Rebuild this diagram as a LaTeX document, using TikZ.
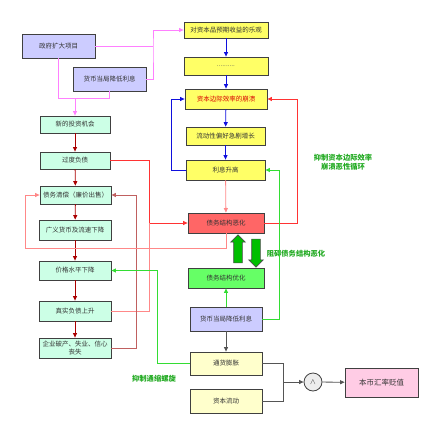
\documentclass[tikz,border=0pt]{standalone}
\usepackage{fontspec}
\newfontfamily\cjk{Noto Sans CJK SC}
\usetikzlibrary{arrows.meta,shapes.arrows}

\definecolor{boxpurple}{HTML}{CCCCFF}
\definecolor{boxyellow}{HTML}{FFFF66}
\definecolor{boxmint}{HTML}{CCFFE6}
\definecolor{boxred}{HTML}{FF6666}
\definecolor{boxgreen}{HTML}{66FF66}
\definecolor{boxcream}{HTML}{FFFFCC}
\definecolor{boxpink}{HTML}{FFCCE5}
\definecolor{linepink}{HTML}{FF80FF}
\definecolor{lineblue}{HTML}{1010DD}
\definecolor{linedark}{HTML}{AA0000}
\definecolor{linered}{HTML}{FF3333}
\definecolor{linelight}{HTML}{FF8888}
\definecolor{linebrown}{HTML}{C06060}
\definecolor{linegreen}{HTML}{33DD33}
\definecolor{textgreen}{HTML}{22AA22}
\definecolor{linegray}{HTML}{555555}

\tikzset{
  box/.style={draw=black!75, line width=0.8pt, inner sep=1pt, align=center,
    font=\cjk\fontsize{6.5}{7.5}\selectfont, text=black!80},
  tip/.style={-{Triangle[length=4.5pt,width=4pt]}},
  conn/.style={line width=0.8pt},
  note/.style={font=\cjk\bfseries\fontsize{7.3}{9}\selectfont, text=textgreen, align=center},
  bigarrow/.style={single arrow, draw=black!70, fill=green!75!black, line width=0.6pt,
    minimum height=28pt, minimum width=14pt, single arrow head extend=3pt, inner sep=4pt}
}

\begin{document}
\begin{tikzpicture}[x=1pt,y=-1pt]
\useasboundingbox (0,0) rectangle (433,428);

% top left
\node[box, fill=boxpurple, minimum width=73, minimum height=24] (gov) at (58.5,46) {政府扩大项目};
\node[box, fill=boxpurple, minimum width=73, minimum height=24] (rateA) at (109.5,79) {货币当局降低利息};

% yellow column
\node[box, fill=boxyellow, minimum width=84, minimum height=16] (optim) at (226,30) {对资本品预期收益的乐观};
\node[box, fill=boxyellow, minimum width=84, minimum height=18, text=black!65] (dots) at (226,66) {..........};
\node[box, fill=boxyellow, minimum width=82, minimum height=20, text=red!85!black] (mec) at (226,99) {资本边际效率的崩溃};
\node[box, fill=boxyellow, minimum width=79, minimum height=18] (liq) at (225.5,136) {流动性偏好急剧增长};
\node[box, fill=boxyellow, minimum width=79, minimum height=20] (rise) at (225.5,170) {利息升高};

% middle column
\node[box, fill=boxred, minimum width=76, minimum height=20] (debtbad) at (226,223) {债务结构恶化};
\node[box, fill=boxgreen, minimum width=76, minimum height=20] (debtgood) at (226,278) {债务结构优化};
\node[box, fill=boxpurple, minimum width=72, minimum height=24] (rateB) at (226,319) {货币当局降低利息};
\node[box, fill=boxcream, minimum width=72, minimum height=23] (infl) at (226,363.5) {通货膨胀};
\node[box, fill=boxcream, minimum width=72, minimum height=24] (capflow) at (226,401) {资本流动};
\node[box, circle, fill=black!7, minimum size=18, font=\cjk\fontsize{8}{9}\selectfont] (and) at (313,382) {$\wedge$};
\node[box, fill=boxpink, minimum width=73, minimum height=29, font=\cjk\fontsize{7.5}{9}\selectfont] (depr) at (381.5,382.5) {本币汇率贬值};

% left column
\node[box, fill=boxmint, minimum width=70, minimum height=17] (inv) at (75,124.5) {新的投资机会};
\node[box, fill=boxmint, minimum width=70, minimum height=17] (overdebt) at (75,160.5) {过度负债};
\node[box, fill=boxmint, minimum width=71, minimum height=18] (liquid) at (75.5,195) {债务清偿（廉价出售）};
\node[box, fill=boxmint, minimum width=72, minimum height=20] (money) at (75,230) {广义货币及流速下降};
\node[box, fill=boxmint, minimum width=72, minimum height=19] (price) at (75,270.5) {价格水平下降};
\node[box, fill=boxmint, minimum width=72, minimum height=20] (realdebt) at (75,311) {真实负债上升};
\node[box, fill=boxmint, minimum width=72, minimum height=20] (bankrupt) at (75,348) {企业破产、失业、信心\\丧失};

% green notes
\node[note] (notemec) at (343,162) {抑制资本边际效率\\崩溃恶性循环};
\node[note] (notedebt) at (296,254) {阻碍债务结构恶化};
\node[note] (noteinfl) at (154,379) {抑制通缩螺旋};

% block arrows
\node[bigarrow, shape border rotate=90] (uparrow) at (238,251) {};
\node[bigarrow, shape border rotate=270] (downarrow) at (256,251) {};

% junctions
\coordinate (pinkA) at (153,46);
\coordinate (pinkB) at (75,98);
\coordinate (redA) at (149,223);
\coordinate (redB) at (25,248);
\coordinate (grayA) at (283,382);

% pink
\draw[conn, linepink] (gov.east) -- (pinkA);
\draw[conn, linepink, tip] (rateA.east) -| (pinkA) |- (optim.west);
\draw[conn, linepink] (gov.south) |- (pinkB);
\draw[conn, linepink, tip] (rateA.south) |- (pinkB) -- (inv.north);

% blue
\draw[conn, lineblue, tip] (optim) -- (dots);
\draw[conn, lineblue, tip] (dots) -- (mec);
\draw[conn, lineblue, tip] (mec) -- (liq);
\draw[conn, lineblue, tip] (liq) -- (rise);
\draw[conn, lineblue, tip] (rise.west) -- ++(-14,0) |- (mec.west);

% dark red column
\draw[conn, linedark, tip] (inv) -- (overdebt);
\draw[conn, linedark, tip] (overdebt) -- (liquid);
\draw[conn, linedark, tip] (liquid) -- (money);
\draw[conn, linedark, tip] (money) -- (price);
\draw[conn, linedark, tip] (price) -- (realdebt);
\draw[conn, linedark, tip] (realdebt) -- (bankrupt);

% red
\draw[conn, linelight, tip] (rise) -- (debtbad);
\draw[conn, linered, tip] (debtbad.east) -- ++(33,0) |- (mec.east);
\draw[conn, linered, tip] (overdebt.east) -| (redA) -- (debtbad.west);
\draw[conn, linelight] (realdebt.east) -| (redA);
\draw[conn, linebrown, tip] (bankrupt.east) -- ++(25,0) |- (liquid.east);
\draw[conn, linelight, tip] (debtbad.south) |- (redB) |- (liquid.west);

% green
\draw[conn, linegreen, tip] (rateB) -- (debtgood);
\draw[conn, linegreen, tip] (rateB.east) -- ++(17,0) |- (rise.east);
\draw[conn, linegreen, tip] (infl.west) -- ++(-32,0) |- (price.east);

% gray
\draw[conn, linegray, tip] (rateB) -- (infl);
\draw[conn, linegray] (infl.east) -| (grayA);
\draw[conn, linegray, tip] (capflow.east) -| (grayA) -- (and.west);
\draw[conn, linegray, tip] (and) -- (depr);
\end{tikzpicture}
\end{document}
